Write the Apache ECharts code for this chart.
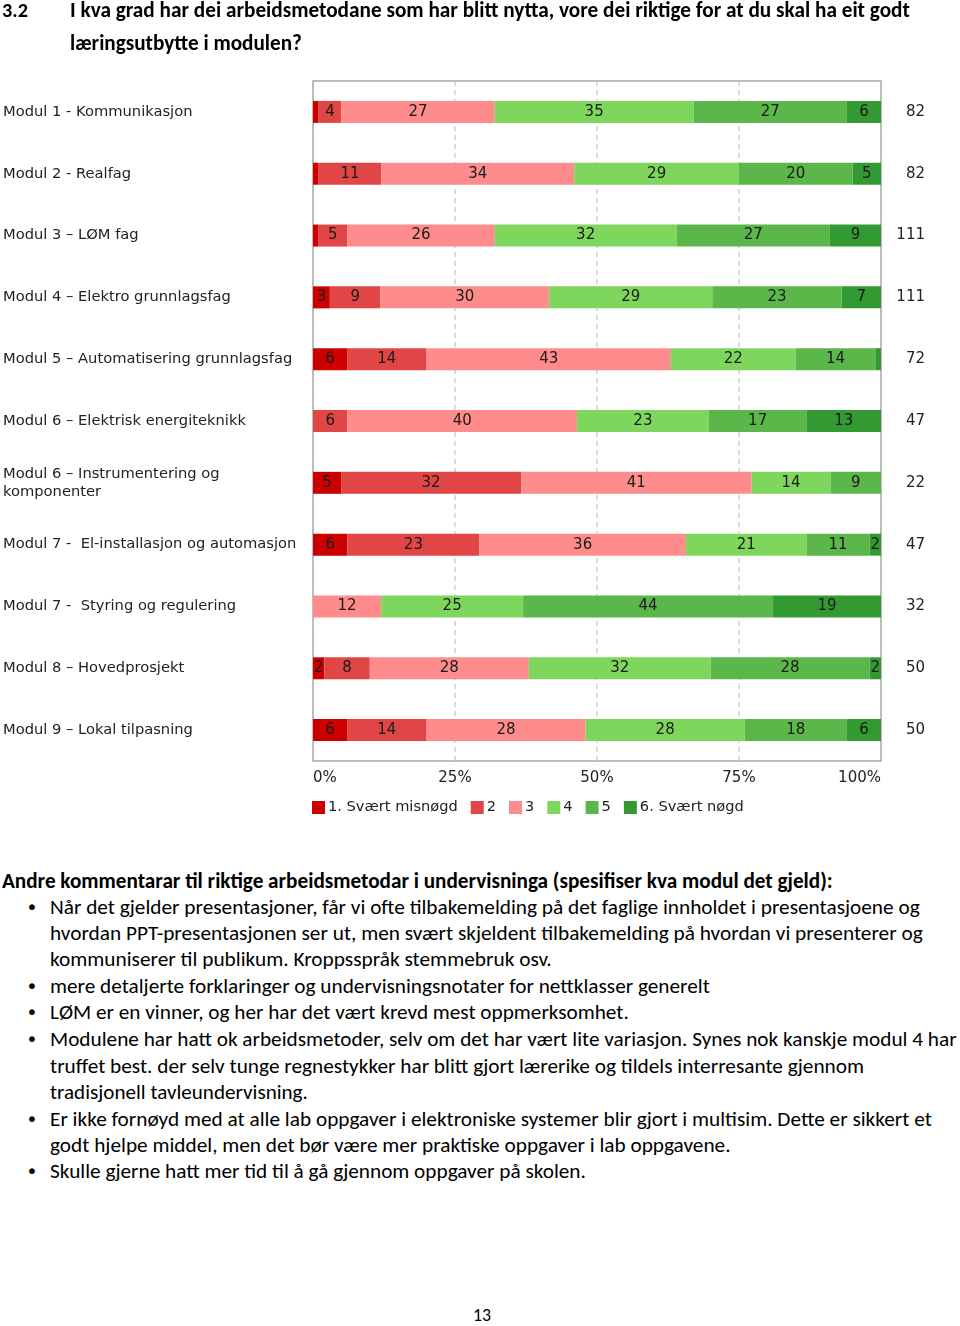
<!DOCTYPE html>
<html>
<head>
<meta charset="utf-8">
<script src="https://cdn.jsdelivr.net/npm/echarts@6/dist/echarts.min.js"></script>
<style>
  html, body { margin: 0; padding: 0; background: #fff; }
  body { width: 960px; height: 1326px; position: relative; overflow: hidden; }
  #chart { position: absolute; left: 0; top: 0; width: 960px; height: 840px; }
  .t { position: absolute; white-space: nowrap; font-family: 'Carlito', 'Lato', sans-serif; color: #000;
       font-size: 17px; line-height: 26px; height: 26px; z-index: 2; }
  .b { font-weight: bold; }
  .dot { position: absolute; font-family: 'DejaVu Sans', sans-serif; font-size: 20px; line-height: 26px; z-index: 2; }
</style>
</head>
<body>
<div id="chart"></div>

<div class="t b" style="left:2px; top:-3px;" data-w="26">3.2</div>
<div class="t b" style="left:70px; top:-3px;" data-w="840">I kva grad har dei arbeidsmetodane som har blitt nytta, vore dei riktige for at du skal ha eit godt</div>
<div class="t b" style="left:70px; top:30px;" data-w="232">læringsutbytte i modulen?</div>

<div class="t b" style="left:2px; top:868px;" data-w="831">Andre kommentarar til riktige arbeidsmetodar i undervisninga (spesifiser kva modul det gjeld):</div>

<div class="dot" style="left:26px; top:894px;">•</div>
<div class="t" style="left:50px; top:894px;" data-w="870">Når det gjelder presentasjoner, får vi ofte tilbakemelding på det faglige innholdet i presentasjoene og</div>
<div class="t" style="left:50px; top:920px;" data-w="873">hvordan PPT-presentasjonen ser ut, men svært skjeldent tilbakemelding på hvordan vi presenterer og</div>
<div class="t" style="left:50px; top:946px;" data-w="502">kommuniserer til publikum. Kroppsspråk stemmebruk osv.</div>

<div class="dot" style="left:26px; top:973px;">•</div>
<div class="t" style="left:50px; top:973px;" data-w="660">mere detaljerte forklaringer og undervisningsnotater for nettklasser generelt</div>

<div class="dot" style="left:26px; top:999px;">•</div>
<div class="t" style="left:50px; top:999px;" data-w="579">LØM er en vinner, og her har det vært krevd mest oppmerksomhet.</div>

<div class="dot" style="left:26px; top:1026px;">•</div>
<div class="t" style="left:50px; top:1026px;" data-w="907">Modulene har hatt ok arbeidsmetoder, selv om det har vært lite variasjon. Synes nok kanskje modul 4 har</div>
<div class="t" style="left:50px; top:1053px;" data-w="814">truffet best. der selv tunge regnestykker har blitt gjort lærerike og tildels interresante gjennom</div>
<div class="t" style="left:50px; top:1079px;" data-w="258">tradisjonell tavleundervisning.</div>

<div class="dot" style="left:26px; top:1106px;">•</div>
<div class="t" style="left:50px; top:1106px;" data-w="882">Er ikke fornøyd med at alle lab oppgaver i elektroniske systemer blir gjort i multisim. Dette er sikkert et</div>
<div class="t" style="left:50px; top:1132px;" data-w="681">godt hjelpe middel, men det bør være mer praktiske oppgaver i lab oppgavene.</div>

<div class="dot" style="left:26px; top:1158px;">•</div>
<div class="t" style="left:50px; top:1158px;" data-w="536">Skulle gjerne hatt mer tid til å gå gjennom oppgaver på skolen.</div>

<div class="t" style="left:473px; top:1302px;" data-w="18">13</div>

<script>
// ---- Data ----
const categories = [
  'Modul 1 - Kommunikasjon',
  'Modul 2 - Realfag',
  'Modul 3 – LØM fag',
  'Modul 4 – Elektro grunnlagsfag',
  'Modul 5 – Automatisering grunnlagsfag',
  'Modul 6 – Elektrisk energiteknikk',
  'Modul 6 – Instrumentering og\nkomponenter',
  'Modul 7 -  El-installasjon og automasjon',
  'Modul 7 -  Styring og regulering',
  'Modul 8 – Hovedprosjekt',
  'Modul 9 – Lokal tilpasning'
];
const level1 = [1, 1, 1, 3, 6, 0, 5, 6, 0, 2, 6];
const level2 = [4, 11, 5, 9, 14, 6, 32, 23, 0, 8, 14];
const level3 = [27, 34, 26, 30, 43, 40, 41, 36, 12, 28, 28];
const level4 = [35, 29, 32, 29, 22, 23, 14, 21, 25, 32, 28];
const level5 = [27, 20, 27, 23, 14, 17, 9, 11, 44, 28, 18];
const level6 = [6, 5, 9, 7, 1, 13, 0, 2, 19, 2, 6];
const respondents = ['82', '82', '111', '111', '72', '47', '22', '47', '32', '50', '50'];
const legendNames = ['1. Svært misnøgd', '2', '3', '4', '5', '6. Svært nøgd'];
const xTicks = [0, 25, 50, 75, 100];

const levels = [level1, level2, level3, level4, level5, level6];
const colors = ['#cc0000', '#e04646', '#ff8c8c', '#7fd65c', '#5cb74a', '#339a33'];
const rowTotals = categories.map((_, i) => levels.reduce((s, l) => s + l[i], 0));

const FONT = 'DejaVu Sans';
const chart = echarts.init(document.getElementById('chart'), null, { renderer: 'canvas' });

const series = levels.map((lv, k) => ({
  name: legendNames[k],
  type: 'bar',
  stack: 'total',
  barWidth: 22,
  itemStyle: { color: colors[k] },
  emphasis: { disabled: true },
  label: {
    show: true,
    position: 'inside',
    color: '#1a1a1a',
    fontFamily: FONT,
    fontSize: 15,
    formatter: p => (p.data.raw >= 2 ? String(p.data.raw) : '')
  },
  data: lv.map((v, i) => ({ value: v / rowTotals[i] * 100, raw: v }))
}));

chart.setOption({
  animation: false,
  backgroundColor: 'transparent',
  textStyle: { fontFamily: FONT },
  legend: {
    data: legendNames,
    left: 307,
    top: 795,
    icon: 'rect',
    itemWidth: 13,
    itemHeight: 13,
    itemGap: 13,
    textStyle: { fontFamily: FONT, fontSize: 14.6, color: '#222', padding: [0, 0, 0, -2] },
    selectedMode: false
  },
  grid: {
    left: 311, right: 79, top: 81, height: 680,
    show: true, borderColor: '#a6a6a6', borderWidth: 1.5, backgroundColor: 'transparent',
    containLabel: false
  },
  xAxis: {
    type: 'value',
    min: xTicks[0], max: xTicks[xTicks.length - 1], interval: 25,
    axisLine: { show: false },
    axisTick: { show: false },
    axisLabel: {
      formatter: '{value}%', fontFamily: FONT, fontSize: 15, color: '#222', margin: 10,
      alignMinLabel: 'left', alignMaxLabel: 'right'
    },
    splitLine: { show: true, showMinLine: false, showMaxLine: false,
      lineStyle: { color: '#d0d0d0', type: [5, 4], width: 1.5 } }
  },
  yAxis: [
    {
      type: 'category',
      data: categories,
      inverse: true,
      axisLine: { show: false },
      axisTick: { show: false },
      splitLine: { show: false },
      axisLabel: { align: 'left', margin: 310, fontFamily: FONT, fontSize: 14.7, color: '#222', lineHeight: 18 }
    },
    {
      type: 'category',
      data: respondents,
      inverse: true,
      position: 'right',
      axisLine: { show: false },
      axisTick: { show: false },
      splitLine: { show: false },
      axisLabel: { align: 'right', margin: 44, fontFamily: FONT, fontSize: 15, color: '#222' }
    }
  ],
  series: series
});

// Fit HTML text lines to the widths measured in the reference
function fitText() {
  document.querySelectorAll('.t[data-w]').forEach(el => {
    el.style.fontSize = '';
    const target = parseFloat(el.dataset.w);
    const cs = parseFloat(getComputedStyle(el).fontSize);
    const w = el.getBoundingClientRect().width;
    if (w > 0) {
      let fs = cs * target / w;
      fs = Math.max(14, Math.min(22, fs));
      el.style.fontSize = fs.toFixed(2) + 'px';
    }
  });
}
fitText();
if (document.fonts && document.fonts.ready) document.fonts.ready.then(fitText);
</script>
</body>
</html>
